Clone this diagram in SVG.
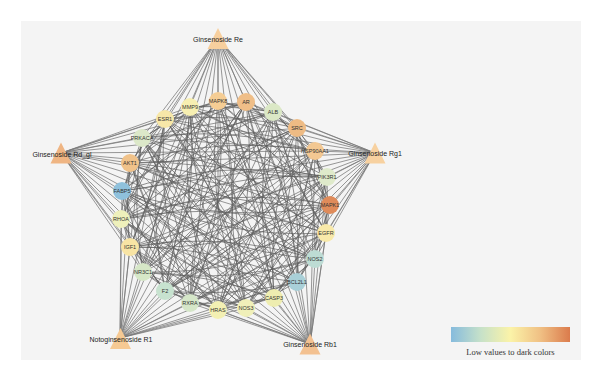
<svg xmlns="http://www.w3.org/2000/svg" width="600" height="382" viewBox="0 0 600 382">
<defs>
<linearGradient id="lg" x1="0" y1="0" x2="1" y2="0">
<stop offset="0" stop-color="#86bbdd"/>
<stop offset="0.25" stop-color="#c6e1c9"/>
<stop offset="0.5" stop-color="#fbf3a8"/>
<stop offset="0.75" stop-color="#f0c084"/>
<stop offset="1" stop-color="#db7b4c"/>
</linearGradient>
<style>
.e path{fill:none;stroke:#5e5e5e;stroke-width:0.95;stroke-opacity:0.72}
.t line{stroke:#777;stroke-width:0.9;stroke-opacity:0.85}
.n text{font-family:"Liberation Sans",Arial,sans-serif;font-size:5.5px;text-anchor:middle;dominant-baseline:central;fill:#333}
.d text{font-family:"Liberation Sans",Arial,sans-serif;font-size:7px;text-anchor:middle;dominant-baseline:central;fill:#222}
</style>
</defs>
<rect width="600" height="382" fill="#ffffff"/>
<rect x="21" y="21" width="560" height="339" fill="#f4f4f4"/>
<g id="connectors">
<g class="t">
<line x1="218" y1="38" x2="218" y2="101"/><line x1="218" y1="38" x2="246" y2="102"/><line x1="218" y1="38" x2="273" y2="112"/><line x1="218" y1="38" x2="297" y2="128"/><line x1="218" y1="38" x2="315" y2="151"/><line x1="218" y1="38" x2="327" y2="177"/><line x1="218" y1="38" x2="330" y2="205"/><line x1="218" y1="38" x2="326" y2="233"/><line x1="218" y1="38" x2="315" y2="259"/><line x1="218" y1="38" x2="297" y2="282"/><line x1="218" y1="38" x2="274" y2="298"/><line x1="218" y1="38" x2="246" y2="308"/><line x1="218" y1="38" x2="218" y2="310"/><line x1="218" y1="38" x2="190" y2="303"/><line x1="218" y1="38" x2="165" y2="291"/><line x1="218" y1="38" x2="143" y2="272"/><line x1="218" y1="38" x2="130" y2="247"/><line x1="218" y1="38" x2="121" y2="219"/><line x1="218" y1="38" x2="122" y2="191"/><line x1="218" y1="38" x2="130" y2="163"/><line x1="218" y1="38" x2="142" y2="138"/><line x1="218" y1="38" x2="165" y2="119"/><line x1="218" y1="38" x2="190" y2="107"/>
<line x1="61" y1="153" x2="218" y2="101"/><line x1="61" y1="153" x2="246" y2="102"/><line x1="61" y1="153" x2="273" y2="112"/><line x1="61" y1="153" x2="297" y2="128"/><line x1="61" y1="153" x2="315" y2="151"/><line x1="61" y1="153" x2="327" y2="177"/><line x1="61" y1="153" x2="330" y2="205"/><line x1="61" y1="153" x2="326" y2="233"/><line x1="61" y1="153" x2="315" y2="259"/><line x1="61" y1="153" x2="297" y2="282"/><line x1="61" y1="153" x2="274" y2="298"/><line x1="61" y1="153" x2="246" y2="308"/><line x1="61" y1="153" x2="218" y2="310"/><line x1="61" y1="153" x2="190" y2="303"/><line x1="61" y1="153" x2="165" y2="291"/><line x1="61" y1="153" x2="143" y2="272"/><line x1="61" y1="153" x2="130" y2="247"/><line x1="61" y1="153" x2="121" y2="219"/><line x1="61" y1="153" x2="122" y2="191"/><line x1="61" y1="153" x2="130" y2="163"/><line x1="61" y1="153" x2="142" y2="138"/><line x1="61" y1="153" x2="165" y2="119"/><line x1="61" y1="153" x2="190" y2="107"/>
<line x1="375" y1="153" x2="218" y2="101"/><line x1="375" y1="153" x2="246" y2="102"/><line x1="375" y1="153" x2="273" y2="112"/><line x1="375" y1="153" x2="297" y2="128"/><line x1="375" y1="153" x2="315" y2="151"/><line x1="375" y1="153" x2="327" y2="177"/><line x1="375" y1="153" x2="330" y2="205"/><line x1="375" y1="153" x2="326" y2="233"/><line x1="375" y1="153" x2="315" y2="259"/><line x1="375" y1="153" x2="297" y2="282"/><line x1="375" y1="153" x2="274" y2="298"/><line x1="375" y1="153" x2="246" y2="308"/><line x1="375" y1="153" x2="218" y2="310"/><line x1="375" y1="153" x2="190" y2="303"/><line x1="375" y1="153" x2="165" y2="291"/><line x1="375" y1="153" x2="143" y2="272"/><line x1="375" y1="153" x2="130" y2="247"/><line x1="375" y1="153" x2="121" y2="219"/><line x1="375" y1="153" x2="122" y2="191"/><line x1="375" y1="153" x2="130" y2="163"/><line x1="375" y1="153" x2="142" y2="138"/><line x1="375" y1="153" x2="165" y2="119"/><line x1="375" y1="153" x2="190" y2="107"/>
<line x1="120" y1="338" x2="218" y2="101"/><line x1="120" y1="338" x2="246" y2="102"/><line x1="120" y1="338" x2="273" y2="112"/><line x1="120" y1="338" x2="297" y2="128"/><line x1="120" y1="338" x2="315" y2="151"/><line x1="120" y1="338" x2="327" y2="177"/><line x1="120" y1="338" x2="330" y2="205"/><line x1="120" y1="338" x2="326" y2="233"/><line x1="120" y1="338" x2="315" y2="259"/><line x1="120" y1="338" x2="297" y2="282"/><line x1="120" y1="338" x2="274" y2="298"/><line x1="120" y1="338" x2="246" y2="308"/><line x1="120" y1="338" x2="218" y2="310"/><line x1="120" y1="338" x2="190" y2="303"/><line x1="120" y1="338" x2="165" y2="291"/><line x1="120" y1="338" x2="143" y2="272"/><line x1="120" y1="338" x2="130" y2="247"/><line x1="120" y1="338" x2="121" y2="219"/><line x1="120" y1="338" x2="122" y2="191"/><line x1="120" y1="338" x2="130" y2="163"/><line x1="120" y1="338" x2="142" y2="138"/><line x1="120" y1="338" x2="165" y2="119"/><line x1="120" y1="338" x2="190" y2="107"/>
<line x1="310" y1="344" x2="218" y2="101"/><line x1="310" y1="344" x2="246" y2="102"/><line x1="310" y1="344" x2="273" y2="112"/><line x1="310" y1="344" x2="297" y2="128"/><line x1="310" y1="344" x2="315" y2="151"/><line x1="310" y1="344" x2="327" y2="177"/><line x1="310" y1="344" x2="330" y2="205"/><line x1="310" y1="344" x2="326" y2="233"/><line x1="310" y1="344" x2="315" y2="259"/><line x1="310" y1="344" x2="297" y2="282"/><line x1="310" y1="344" x2="274" y2="298"/><line x1="310" y1="344" x2="246" y2="308"/><line x1="310" y1="344" x2="218" y2="310"/><line x1="310" y1="344" x2="190" y2="303"/><line x1="310" y1="344" x2="165" y2="291"/><line x1="310" y1="344" x2="143" y2="272"/><line x1="310" y1="344" x2="130" y2="247"/><line x1="310" y1="344" x2="121" y2="219"/><line x1="310" y1="344" x2="122" y2="191"/><line x1="310" y1="344" x2="130" y2="163"/><line x1="310" y1="344" x2="142" y2="138"/><line x1="310" y1="344" x2="165" y2="119"/><line x1="310" y1="344" x2="190" y2="107"/>
</g>
<g class="e">
<path d="M218 101A400 400 0 0 0 273 112"/><path d="M246 102A400 400 0 0 1 297 128"/><path d="M273 112A400 400 0 0 0 315 151"/><path d="M297 128A400 400 0 0 1 327 177"/><path d="M315 151A400 400 0 0 0 330 205"/><path d="M327 177A400 400 0 0 1 326 233"/><path d="M330 205A400 400 0 0 0 315 259"/><path d="M326 233A400 400 0 0 1 297 282"/><path d="M315 259A400 400 0 0 0 274 298"/><path d="M297 282A400 400 0 0 1 246 308"/><path d="M274 298A400 400 0 0 0 218 310"/><path d="M246 308A400 400 0 0 1 190 303"/><path d="M218 310A400 400 0 0 0 165 291"/><path d="M190 303A400 400 0 0 1 143 272"/><path d="M165 291A400 400 0 0 0 130 247"/><path d="M143 272A400 400 0 0 1 121 219"/><path d="M130 247A400 400 0 0 0 122 191"/><path d="M121 219A400 400 0 0 1 130 163"/><path d="M122 191A400 400 0 0 0 142 138"/><path d="M130 163A400 400 0 0 1 165 119"/><path d="M142 138A400 400 0 0 0 190 107"/><path d="M165 119A400 400 0 0 1 218 101"/><path d="M190 107A400 400 0 0 0 246 102"/>
<path d="M218 101A400 400 0 0 1 297 128"/><path d="M246 102A400 400 0 0 0 315 151"/><path d="M273 112A400 400 0 0 1 327 177"/><path d="M297 128A400 400 0 0 0 330 205"/><path d="M315 151A400 400 0 0 1 326 233"/><path d="M327 177A400 400 0 0 0 315 259"/><path d="M330 205A400 400 0 0 1 297 282"/><path d="M326 233A400 400 0 0 0 274 298"/><path d="M315 259A400 400 0 0 1 246 308"/><path d="M297 282A400 400 0 0 0 218 310"/><path d="M274 298A400 400 0 0 1 190 303"/><path d="M246 308A400 400 0 0 0 165 291"/><path d="M218 310A400 400 0 0 1 143 272"/><path d="M190 303A400 400 0 0 0 130 247"/><path d="M165 291A400 400 0 0 1 121 219"/><path d="M143 272A400 400 0 0 0 122 191"/><path d="M130 247A400 400 0 0 1 130 163"/><path d="M121 219A400 400 0 0 0 142 138"/><path d="M122 191A400 400 0 0 1 165 119"/><path d="M130 163A400 400 0 0 0 190 107"/><path d="M142 138A400 400 0 0 1 218 101"/><path d="M165 119A400 400 0 0 0 246 102"/><path d="M190 107A400 400 0 0 1 273 112"/>
<path d="M218 101A400 400 0 0 0 327 177"/><path d="M246 102A400 400 0 0 1 330 205"/><path d="M273 112A400 400 0 0 0 326 233"/><path d="M297 128A400 400 0 0 1 315 259"/><path d="M315 151A400 400 0 0 0 297 282"/><path d="M327 177A400 400 0 0 1 274 298"/><path d="M330 205A400 400 0 0 0 246 308"/><path d="M326 233A400 400 0 0 1 218 310"/><path d="M315 259A400 400 0 0 0 190 303"/><path d="M297 282A400 400 0 0 1 165 291"/><path d="M274 298A400 400 0 0 0 143 272"/><path d="M246 308A400 400 0 0 1 130 247"/><path d="M218 310A400 400 0 0 0 121 219"/><path d="M190 303A400 400 0 0 1 122 191"/><path d="M165 291A400 400 0 0 0 130 163"/><path d="M143 272A400 400 0 0 1 142 138"/><path d="M130 247A400 400 0 0 0 165 119"/><path d="M121 219A400 400 0 0 1 190 107"/><path d="M122 191A400 400 0 0 0 218 101"/><path d="M130 163A400 400 0 0 1 246 102"/><path d="M142 138A400 400 0 0 0 273 112"/><path d="M165 119A400 400 0 0 1 297 128"/><path d="M190 107A400 400 0 0 0 315 151"/>
<path d="M218 101A400 400 0 0 1 326 233"/><path d="M246 102A400 400 0 0 0 315 259"/><path d="M273 112A400 400 0 0 1 297 282"/><path d="M297 128A400 400 0 0 0 274 298"/><path d="M315 151A400 400 0 0 1 246 308"/><path d="M327 177A400 400 0 0 0 218 310"/><path d="M330 205A400 400 0 0 1 190 303"/><path d="M326 233A400 400 0 0 0 165 291"/><path d="M315 259A400 400 0 0 1 143 272"/><path d="M297 282A400 400 0 0 0 130 247"/><path d="M274 298A400 400 0 0 1 121 219"/><path d="M246 308A400 400 0 0 0 122 191"/><path d="M218 310A400 400 0 0 1 130 163"/><path d="M190 303A400 400 0 0 0 142 138"/><path d="M165 291A400 400 0 0 1 165 119"/><path d="M143 272A400 400 0 0 0 190 107"/><path d="M130 247A400 400 0 0 1 218 101"/><path d="M121 219A400 400 0 0 0 246 102"/><path d="M122 191A400 400 0 0 1 273 112"/><path d="M130 163A400 400 0 0 0 297 128"/><path d="M142 138A400 400 0 0 1 315 151"/><path d="M165 119A400 400 0 0 0 327 177"/><path d="M190 107A400 400 0 0 1 330 205"/>
<path d="M218 101A400 400 0 0 0 315 259"/><path d="M246 102A400 400 0 0 1 297 282"/><path d="M273 112A400 400 0 0 0 274 298"/><path d="M297 128A400 400 0 0 1 246 308"/><path d="M315 151A400 400 0 0 0 218 310"/><path d="M327 177A400 400 0 0 1 190 303"/><path d="M330 205A400 400 0 0 0 165 291"/><path d="M326 233A400 400 0 0 1 143 272"/><path d="M315 259A400 400 0 0 0 130 247"/><path d="M297 282A400 400 0 0 1 121 219"/><path d="M274 298A400 400 0 0 0 122 191"/><path d="M246 308A400 400 0 0 1 130 163"/><path d="M218 310A400 400 0 0 0 142 138"/><path d="M190 303A400 400 0 0 1 165 119"/><path d="M165 291A400 400 0 0 0 190 107"/><path d="M143 272A400 400 0 0 1 218 101"/><path d="M130 247A400 400 0 0 0 246 102"/><path d="M121 219A400 400 0 0 1 273 112"/><path d="M122 191A400 400 0 0 0 297 128"/><path d="M130 163A400 400 0 0 1 315 151"/><path d="M142 138A400 400 0 0 0 327 177"/><path d="M165 119A400 400 0 0 1 330 205"/><path d="M190 107A400 400 0 0 0 326 233"/>
<path d="M218 101A400 400 0 0 1 274 298"/><path d="M246 102A400 400 0 0 0 246 308"/><path d="M273 112A400 400 0 0 1 218 310"/><path d="M297 128A400 400 0 0 0 190 303"/><path d="M315 151A400 400 0 0 1 165 291"/><path d="M327 177A400 400 0 0 0 143 272"/><path d="M330 205A400 400 0 0 1 130 247"/><path d="M326 233A400 400 0 0 0 121 219"/><path d="M315 259A400 400 0 0 1 122 191"/><path d="M297 282A400 400 0 0 0 130 163"/><path d="M274 298A400 400 0 0 1 142 138"/><path d="M246 308A400 400 0 0 0 165 119"/><path d="M218 310A400 400 0 0 1 190 107"/><path d="M190 303A400 400 0 0 0 218 101"/><path d="M165 291A400 400 0 0 1 246 102"/><path d="M143 272A400 400 0 0 0 273 112"/><path d="M130 247A400 400 0 0 1 297 128"/><path d="M121 219A400 400 0 0 0 315 151"/><path d="M122 191A400 400 0 0 1 327 177"/><path d="M130 163A400 400 0 0 0 330 205"/><path d="M142 138A400 400 0 0 1 326 233"/><path d="M165 119A400 400 0 0 0 315 259"/><path d="M190 107A400 400 0 0 1 297 282"/>
<path d="M218 101A400 400 0 0 0 246 308"/><path d="M246 102A400 400 0 0 1 218 310"/><path d="M273 112A400 400 0 0 0 190 303"/><path d="M297 128A400 400 0 0 1 165 291"/><path d="M315 151A400 400 0 0 0 143 272"/><path d="M327 177A400 400 0 0 1 130 247"/><path d="M330 205A400 400 0 0 0 121 219"/><path d="M326 233A400 400 0 0 1 122 191"/><path d="M315 259A400 400 0 0 0 130 163"/><path d="M297 282A400 400 0 0 1 142 138"/><path d="M274 298A400 400 0 0 0 165 119"/><path d="M246 308A400 400 0 0 1 190 107"/><path d="M218 310A400 400 0 0 0 218 101"/><path d="M190 303A400 400 0 0 1 246 102"/><path d="M165 291A400 400 0 0 0 273 112"/><path d="M143 272A400 400 0 0 1 297 128"/><path d="M130 247A400 400 0 0 0 315 151"/><path d="M121 219A400 400 0 0 1 327 177"/><path d="M122 191A400 400 0 0 0 330 205"/><path d="M130 163A400 400 0 0 1 326 233"/><path d="M142 138A400 400 0 0 0 315 259"/><path d="M165 119A400 400 0 0 1 297 282"/><path d="M190 107A400 400 0 0 0 274 298"/>
</g>
</g>
<g class="n">
<g id="MAPK8"><circle cx="218" cy="101" r="9" fill="#f5cd94"/><text x="218" y="101">MAPK8</text></g>
<g id="AR"><circle cx="246" cy="102" r="9" fill="#efbe88"/><text x="246" y="102">AR</text></g>
<g id="ALB"><circle cx="273" cy="112" r="9" fill="#dbe8c6"/><text x="273" y="112">ALB</text></g>
<g id="SRC"><circle cx="297" cy="128" r="9" fill="#eebb84"/><text x="297" y="128">SRC</text></g>
<g id="HSP90AA1"><circle cx="315" cy="151" r="9" fill="#f3c892"/><text x="315" y="151">HSP90AA1</text></g>
<g id="PIK3R1"><circle cx="327" cy="177" r="9" fill="#dfeacb"/><text x="327" y="177">PIK3R1</text></g>
<g id="MAPK1"><circle cx="330" cy="205" r="9" fill="#df8b5a"/><text x="330" y="205">MAPK1</text></g>
<g id="EGFR"><circle cx="326" cy="233" r="9" fill="#f8e9a9"/><text x="326" y="233">EGFR</text></g>
<g id="NOS2"><circle cx="315" cy="259" r="9" fill="#bddcd4"/><text x="315" y="259">NOS2</text></g>
<g id="BCL2L1"><circle cx="297" cy="282" r="9" fill="#a9d0d8"/><text x="297" y="282">BCL2L1</text></g>
<g id="CASP3"><circle cx="274" cy="298" r="9" fill="#eeedb0"/><text x="274" y="298">CASP3</text></g>
<g id="NOS3"><circle cx="246" cy="308" r="9" fill="#f0f0b9"/><text x="246" y="308">NOS3</text></g>
<g id="HRAS"><circle cx="218" cy="310" r="9" fill="#f3f0b3"/><text x="218" y="310">HRAS</text></g>
<g id="RXRA"><circle cx="190" cy="303" r="9" fill="#d5e6c8"/><text x="190" y="303">RXRA</text></g>
<g id="F2"><circle cx="165" cy="291" r="9" fill="#c7e2cf"/><text x="165" y="291">F2</text></g>
<g id="NR3C1"><circle cx="143" cy="272" r="9" fill="#d6e7c7"/><text x="143" y="272">NR3C1</text></g>
<g id="IGF1"><circle cx="130" cy="247" r="9" fill="#f8e4a4"/><text x="130" y="247">IGF1</text></g>
<g id="RHOA"><circle cx="121" cy="219" r="9" fill="#eef0bb"/><text x="121" y="219">RHOA</text></g>
<g id="FABP5"><circle cx="122" cy="191" r="9" fill="#8fc1dc"/><text x="122" y="191">FABP5</text></g>
<g id="AKT1"><circle cx="130" cy="163" r="9" fill="#f0c28a"/><text x="130" y="163">AKT1</text></g>
<g id="PRKACA"><circle cx="142" cy="138" r="9" fill="#dce8c9"/><text x="142" y="138">PRKACA</text></g>
<g id="ESR1"><circle cx="165" cy="119" r="9" fill="#f7e7a8"/><text x="165" y="119">ESR1</text></g>
<g id="MMP9"><circle cx="190" cy="107" r="9" fill="#f7efb1"/><text x="190" y="107">MMP9</text></g>
</g>
<g class="d">
<g id="Ginsenoside_Re"><polygon points="218,28 207.5,49 228.5,49" fill="#f7cf9e"/><text x="218" y="39">Ginsenoside Re</text></g>
<g id="Ginsenoside_Rd_gl"><polygon points="61,142.5 50.5,163.5 71.5,163.5" fill="#efb583"/><text x="62" y="154">Ginsenoside Rd_gl</text></g>
<g id="Ginsenoside_Rg1"><polygon points="375,142.5 364.5,163.5 385.5,163.5" fill="#f7d1a0"/><text x="375" y="153">Ginsenoside Rg1</text></g>
<g id="Notoginsenoside_R1"><polygon points="120.5,328 110,349 131,349" fill="#f6c993"/><text x="121" y="339">Notoginsenoside R1</text></g>
<g id="Ginsenoside_Rb1"><polygon points="310,333.5 299.5,354.5 320.5,354.5" fill="#f3c191"/><text x="310" y="344">Ginsenoside Rb1</text></g>
</g>
<g id="legend">
<rect x="451" y="327" width="119" height="15" fill="url(#lg)"/>
<text x="510.5" y="355" font-family="Liberation Serif,'Times New Roman',serif" font-size="8.5" text-anchor="middle" fill="#333">Low values to dark colors</text>
</g>
</svg>
